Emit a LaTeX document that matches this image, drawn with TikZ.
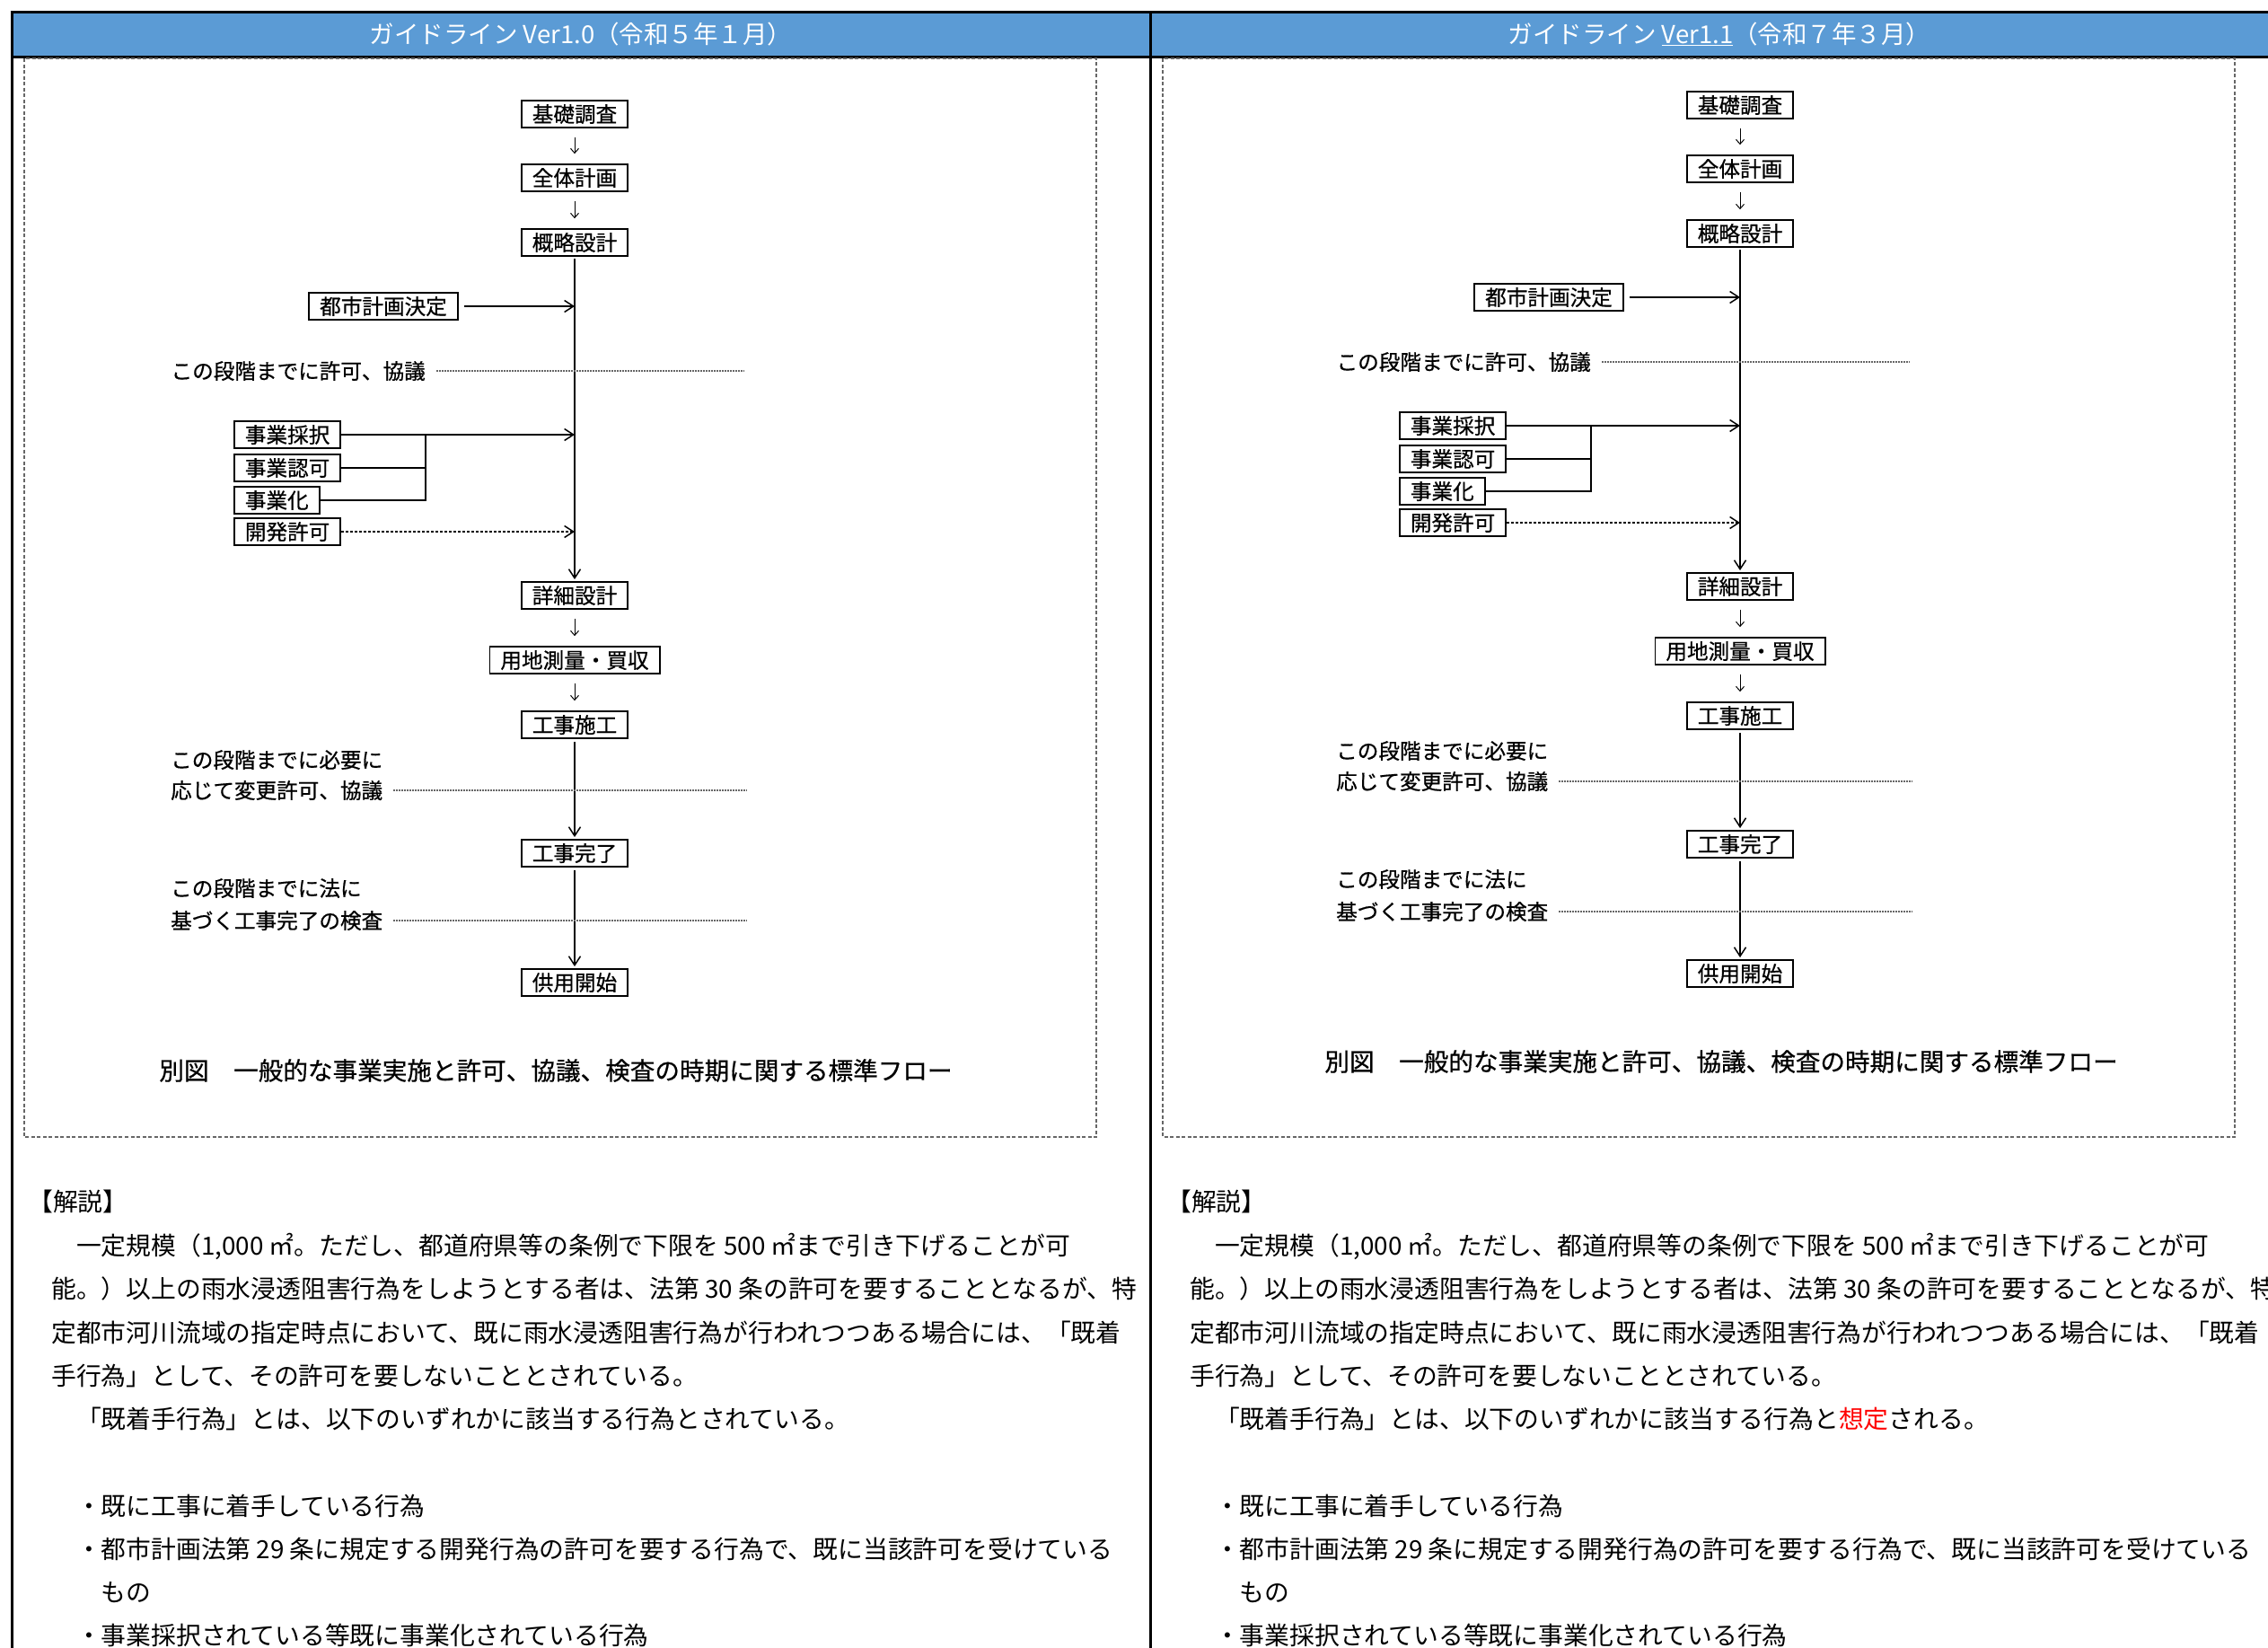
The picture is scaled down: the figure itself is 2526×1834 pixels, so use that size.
\documentclass[tikz,border=0pt]{standalone}
\usepackage{fontspec}
\setmainfont{Noto Sans CJK JP}
\newfontfamily\flowfont[FakeBold=0.6]{Noto Sans CJK JP}
\usetikzlibrary{arrows.meta}
\definecolor{hdrblue}{RGB}{91,155,213}
\newcommand{\myfs}[1]{\fontsize{#1}{#1}\selectfont}
\tikzset{
  fbox/.style={draw, line width=1.8pt, inner xsep=12pt, inner ysep=0pt, minimum height=30pt,
    font=\flowfont\myfs{23.6}, text height=20.8pt, text depth=2.8pt},
  lbl/.style={inner sep=0pt, font=\flowfont\myfs{23.6}, text height=20.8pt, text depth=2.8pt, anchor=west},
  body/.style={inner sep=0pt, font=\myfs{27.8}, text height=24.5pt, text depth=3.3pt, anchor=west},
  htitle/.style={inner sep=0pt, font=\myfs{27.5}, text=white},
  mainarr/.style={line width=1.5pt, -{Straight Barb[length=10pt,width=13pt]}},
  smallarr/.style={line width=1pt, -{Straight Barb[length=5pt,width=9pt]}, shorten <=10pt, shorten >=11pt},
  plainln/.style={line width=1.5pt},
  dotl/.style={line width=1.2pt, black!60, dash pattern=on 1.5pt off 1.5pt},
  dasharr/.style={mainarr, dash pattern=on 3pt off 2pt},
  framebox/.style={line width=1.5pt, black!60, dash pattern=on 4pt off 2.5pt},
  rulel/.style={line width=3pt, black}
}
\newcommand{\flowchart}[1]{%
  \node[fbox] (#1a) at (640,127) {基礎調査};
  \node[fbox] (#1b) at (640,198) {全体計画};
  \node[fbox] (#1c) at (640,270) {概略設計};
  \node[fbox] (#1d) at (427,341) {都市計画決定};
  \node[lbl, anchor=east] (#1t1) at (474,413) {この段階までに許可、協議};
  \node[fbox, anchor=west] (#1e) at (260,484) {事業採択};
  \node[fbox, anchor=west] (#1f) at (260,521) {事業認可};
  \node[fbox, anchor=west] (#1g) at (260,557) {事業化};
  \node[fbox, anchor=west] (#1h) at (260,592) {開発許可};
  \node[fbox] (#1i) at (640,663) {詳細設計};
  \node[fbox] (#1j) at (640,735) {用地測量・買収};
  \node[fbox] (#1k) at (640,807) {工事施工};
  \node[lbl] (#1t2) at (190,846) {この段階までに必要に};
  \node[lbl] (#1t3) at (190,880) {応じて変更許可、協議};
  \node[fbox] (#1l) at (640,950) {工事完了};
  \node[lbl] (#1t4) at (190,989) {この段階までに法に};
  \node[lbl] (#1t5) at (190,1025) {基づく工事完了の検査};
  \node[fbox] (#1m) at (640,1094) {供用開始};
  \node[inner sep=0pt, font=\flowfont\myfs{27.6}] (#1cap) at (619,1192) {別図　一般的な事業実施と許可、協議、検査の時期に関する標準フロー};
  \coordinate (#1d1) at (829,413);
  \coordinate (#1d2) at (832,880);
  \coordinate (#1br) at (474,484);
  % connectors
  \draw[smallarr] (#1a) -- (#1b);
  \draw[smallarr] (#1b) -- (#1c);
  \draw[mainarr, shorten <=2pt, shorten >=2pt] (#1c) -- (#1i);
  \draw[mainarr, shorten <=6pt] (#1d.east) -- (#1d.east -| #1c.south);
  \draw[mainarr] (#1e.east) -- (#1e.east -| #1c.south);
  \draw[plainln] (#1f.east) -- (#1f.east -| #1br);
  \draw[plainln] (#1g.east) -| (#1br);
  \draw[dasharr] (#1h.east) -- (#1h.east -| #1c.south);
  \draw[smallarr] (#1i) -- (#1j);
  \draw[smallarr] (#1j) -- (#1k);
  \draw[mainarr, shorten <=3pt, shorten >=2pt] (#1k) -- (#1l);
  \draw[mainarr, shorten <=3pt, shorten >=2pt] (#1l) -- (#1m);
  \draw[dotl, shorten <=12pt] (#1t1.east) -- (#1t1.east -| #1d1);
  \draw[dotl, shorten <=12pt] (#1t3.east) -- (#1t3.east -| #1d2);
  \draw[dotl, shorten <=12pt] (#1t5.east) -- (#1t5.east -| #1d2);
}
\newcommand{\commentary}[2]{%
  \node[body] (#1p0) at (31,1338) {【解説】};
  \node[body] (#1p1) at (57,1387) {　一定規模（1,000 ㎡。ただし、都道府県等の条例で下限を 500 ㎡まで引き下げることが可};
  \node[body] (#1p2) at (57,1435) {能。）以上の雨水浸透阻害行為をしようとする者は、法第 30 条の許可を要することとなるが、特};
  \node[body] (#1p3) at (57,1484) {定都市河川流域の指定時点において、既に雨水浸透阻害行為が行われつつある場合には、「既着};
  \node[body] (#1p4) at (57,1532) {手行為」として、その許可を要しないこととされている。};
  \node[body] (#1p5) at (57,1580) {　「既着手行為」とは、以下のいずれかに該当する行為と#2};
  \node[body] (#1b1) at (57,1677) {　・既に工事に着手している行為};
  \node[body] (#1b2) at (57,1725) {　・都市計画法第 29 条に規定する開発行為の許可を要する行為で、既に当該許可を受けている};
  \node[body] (#1b3) at (57,1773) {　　もの};
  \node[body] (#1b4) at (57,1821) {　・事業採択されている等既に事業化されている行為};
}
\begin{document}
\begin{tikzpicture}[x=1pt, y=-1pt]
  \useasboundingbox (0,0) rectangle (2526,1834);
  \clip (0,0) rectangle (2526,1834);
  \fill[white] (0,0) rectangle (2526,1834);
  % header
  \fill[hdrblue] (13,13) rectangle (2560,63);
  \node[htitle] (h1) at (647,38) {ガイドライン Ver1.0（令和５年１月）};
  \node[htitle] (h2) at (1915,38) {ガイドライン \underline{Ver1.1}（令和７年３月）};
  \draw[rulel] (11.5,13) -- (2560,13);
  \draw[rulel] (13,63) -- (2560,63);
  \draw[rulel] (13,13) -- (13,1840);
  \draw[rulel] (1281,13) -- (1281,1840);
  % dashed frames
  \draw[framebox] (27,65) rectangle (1221,1266);
  \draw[framebox] (1295,65) rectangle (2489,1266);
  % flowcharts
  \flowchart{L}
  \begin{scope}[shift={(1298,-10)}]
    \flowchart{R}
  \end{scope}
  % commentary
  \commentary{L}{されている。}
  \begin{scope}[shift={(1268,0)}]
    \commentary{R}{\textcolor{red}{想定}される。}
  \end{scope}
\end{tikzpicture}
\end{document}
